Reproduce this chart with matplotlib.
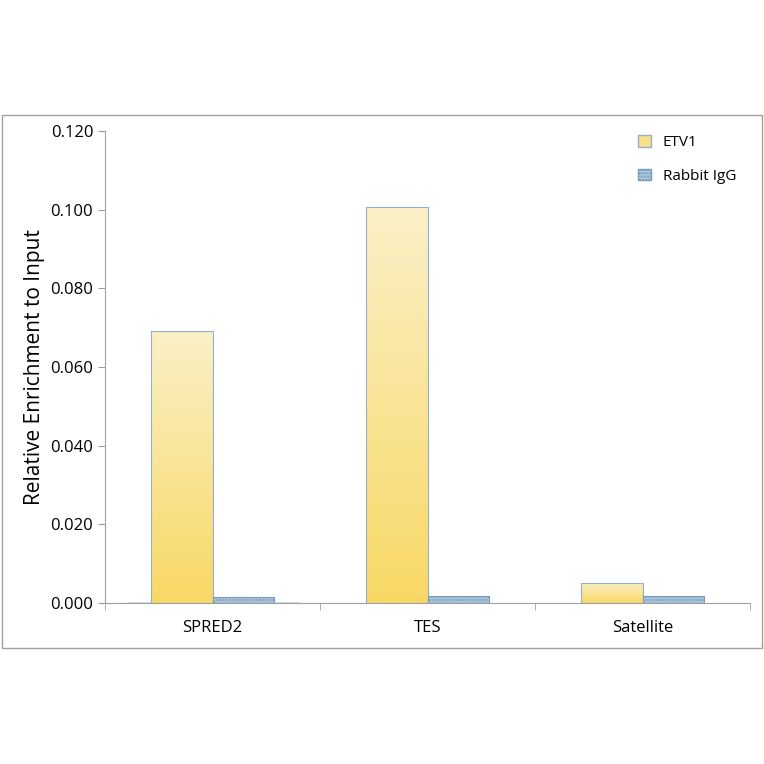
import matplotlib
matplotlib.use("Agg")
import matplotlib.pyplot as plt
import numpy as np
from matplotlib.patches import Rectangle

categories = ["SPRED2", "TES", "Satellite"]
etv1 = [0.0692, 0.1006, 0.0051]
igg = [0.0015, 0.0019, 0.0017]

plt.rcParams['font.family'] = ['Open Sans', 'DejaVu Sans']
fig = plt.figure(figsize=(7.64, 7.64), dpi=100)
fig.patches.append(Rectangle((2/764, 116/764), 760/764, 533/764, transform=fig.transFigure,
                             fill=False, edgecolor='#a0a0a0', lw=1))
ax = fig.add_axes([105/764, 161/764, 645/764, 472/764])
x = np.arange(len(categories))
w = 0.285
grad = np.linspace(0, 1, 256).reshape(-1, 1)
from matplotlib.colors import LinearSegmentedColormap
cmap = LinearSegmentedColormap.from_list('g', ['#f8d865', '#fbf0c8'])
for xi, v in zip(x, etv1):
    im = ax.imshow(grad, extent=[xi - w, xi, 0, v], origin='lower', cmap=cmap, aspect='auto', zorder=2)
    r = Rectangle((xi - w, 0), w, v, fill=False, edgecolor='#8fb0d0', lw=0.8, zorder=3)
    ax.add_patch(r)
    im.set_clip_path(r)
ax.bar(x + w/2, igg, w, color='#a9c6dd', edgecolor='#7a9ab8', lw=0.8, hatch='.....', zorder=3)
ax.bar([0], [0], color='#f9df85', edgecolor='#8fb0d0', label='ETV1')
ax.bar([0], [0], color='#a9c6dd', edgecolor='#7a9ab8', hatch='.....', label='Rabbit IgG')
ax.set_xlim(-0.5, 2.5)
ax.set_ylim(0, 0.12)
ax.set_yticks(np.arange(0, 0.1201, 0.02))
ax.set_yticklabels([f"{t:.3f}" for t in np.arange(0, 0.1201, 0.02)], fontsize=12)
ax.set_xticks(x)
ax.set_xticklabels(categories, fontsize=12)
ax.set_xticks([-0.5, 0.5, 1.5, 2.5], minor=True)
ax.tick_params(axis='x', which='major', length=0, pad=12)
ax.tick_params(axis='x', which='minor', length=5, color='#a0a0a0')
ax.tick_params(axis='y', length=5, color='#a0a0a0')
for s in ['top', 'right']:
    ax.spines[s].set_visible(False)
for s in ['left', 'bottom']:
    ax.spines[s].set_color('#a0a0a0')
ax.set_ylabel("Relative Enrichment to Input", fontsize=15)
ax.legend(loc='upper right', frameon=False, fontsize=11, handlelength=0.8, handleheight=0.8,
          labelspacing=1.2, bbox_to_anchor=(1.0, 1.02))
fig.savefig("out.png", dpi=100)
